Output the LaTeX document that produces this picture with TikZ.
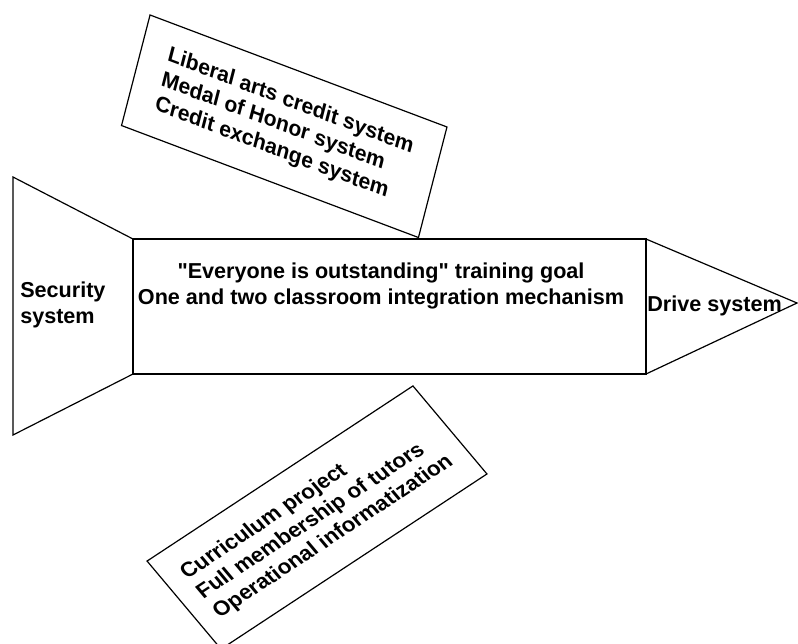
\documentclass[tikz,border=0pt]{standalone}
\usepackage{fontspec}
\setmainfont{Liberation Sans}
\usepackage{tikz}

\tikzset{
  garis/.style={draw, line width=0.9pt, line join=miter},
  teks/.style={font=\fontsize{16.2pt}{19pt}\selectfont\bfseries, inner sep=0pt},
  kotak/.style={garis, teks, align=left},
}

\begin{document}
\begin{tikzpicture}[x=0.75pt, y=-0.75pt]
				\useasboundingbox (0,0) rectangle (798,643);

				% bentuk roket
				\coordinate (tl) at (133,239);
				\coordinate (bl) at (133,374);
				\coordinate (tr) at (646,239);
				\coordinate (br) at (646,374);
				\coordinate (tip) at (797,303);
				\draw [garis] (13,177) -- (tl) -- (bl) -- (13,435) -- cycle; % ekor
				\draw [garis] (tl) rectangle (br);                             % badan
				\draw [garis] (tr) -- (tip) -- (br);                           % kepala

				% teks di dalam roket
				\node (security) [teks, anchor=west, align=left] at (20,305) {Security\\system};
				\node (goal) [teks, align=center] at (381,286) {\textquotedbl Everyone is outstanding\textquotedbl{} training goal\\One and two classroom integration mechanism};
				\node (drive) [teks, anchor=west] at (647,306) {Drive system};

				% kotak miring
				\node (credit) [kotak, minimum width=238pt, minimum height=85.6pt,
				  cm={0.9357,-0.3529,0.2498,0.9685,(0,0)}] at (284.25,126.25)
				  {Liberal arts credit system\\Medal of Honor system\\Credit exchange system};
				\node (project) [kotak, minimum width=238.8pt, minimum height=86.3pt,
				  cm={0.835,0.550,-0.643,0.765,(0,0)}] at (317,517.5)
				  {Curriculum project\\Full membership of tutors\\Operational informatization};
			\end{tikzpicture}
\end{document}
